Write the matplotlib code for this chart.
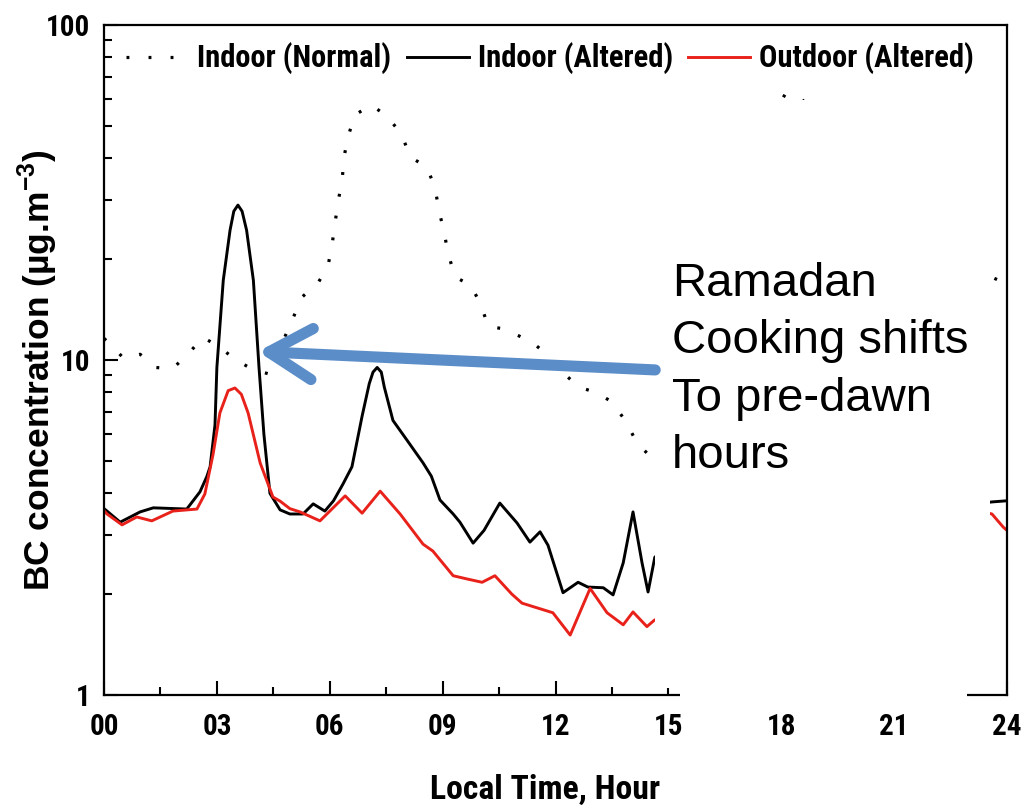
import os
import matplotlib
matplotlib.use("Agg")
import matplotlib.pyplot as plt
from matplotlib import font_manager as fm
from matplotlib.patches import Rectangle
from matplotlib.ticker import LogLocator, NullFormatter, FixedLocator, FixedFormatter

# ---------------- data ----------------
normal_hours = [0.0, 0.11, 0.53, 0.96, 1.38, 1.81, 2.23, 2.63, 3.08, 3.51, 3.93, 4.36, 4.7,
                5.02, 5.26, 5.69, 5.95, 6.06, 6.14, 6.22, 6.33, 6.38, 6.49, 6.67, 7.10, 7.52,
                7.92, 8.13, 8.58, 8.80, 8.90, 9.04, 9.14, 9.33, 9.75, 10.02, 10.21, 10.60,
                11.03, 11.46, 11.77, 12.23, 12.62, 13.08, 13.50, 13.85, 14.17, 14.56,
                15.2, 15.8, 16.4, 17.0, 17.6, 18.1, 18.5, 19.0, 19.8, 20.6, 21.4, 22.2,
                23.0, 23.87, 24.0]
normal_vals = [11.6, 11.3, 10.1, 10.4, 9.5, 9.4, 10.4, 11.7, 10.9, 10.0, 9.4, 9.1, 11.0,
               13.3, 15.4, 17.0, 19.0, 22.0, 25.6, 29.6, 34.5, 40.4, 46.6, 53.9, 57.7, 53.5,
               47.0, 40.4, 37.7, 32.6, 28.0, 24.1, 20.9, 17.7, 16.7, 14.6, 12.6, 12.4,
               11.8, 11.1, 10.4, 9.1, 8.3, 8.0, 7.5, 6.6, 5.65, 5.1,
               6.5, 10.0, 18.0, 32.0, 50.0, 62.0, 61.0, 52.0, 42.0, 33.0, 27.0, 22.0,
               19.0, 17.1, 16.8]

altered_hours = [0.0, 0.08, 0.43, 0.96, 1.31, 2.2, 2.55, 2.73, 2.82, 2.95, 3.0, 3.17, 3.35,
                 3.45, 3.56, 3.67, 3.79, 3.97, 4.12, 4.25, 4.41, 4.68, 4.94, 5.29, 5.56,
                 5.87, 6.1, 6.35, 6.59, 6.86, 7.05, 7.15, 7.26, 7.37, 7.45, 7.68, 8.05, 8.48,
                 8.7, 8.93, 9.28, 9.46, 9.81, 10.1, 10.52, 10.98, 11.32, 11.59, 11.8, 12.2,
                 12.6, 12.86, 13.27, 13.53, 13.8, 14.06, 14.3, 14.46, 14.64,
                 15.5, 17.0, 19.0, 21.0, 23.0, 23.6, 24.0]
altered_vals = [3.6, 3.54, 3.28, 3.52, 3.62, 3.59, 4.04, 4.48, 4.8, 6.4, 9.5, 17.3, 24.4,
                27.8, 29.0, 27.8, 24.4, 17.3, 9.5, 6.0, 4.0, 3.57, 3.47, 3.47, 3.72,
                3.54, 3.8, 4.26, 4.8, 6.8, 8.5, 9.2, 9.5, 9.2, 8.3, 6.6, 5.77, 4.93,
                4.5, 3.82, 3.47, 3.28, 2.84, 3.1, 3.74, 3.26, 2.86, 3.07, 2.8, 2.02,
                2.17, 2.10, 2.09, 1.99, 2.48, 3.52, 2.48, 2.03, 2.58,
                3.0, 3.3, 3.6, 3.5, 3.7, 3.77, 3.8]

outdoor_hours = [0.0, 0.08, 0.48, 0.87, 1.27, 1.83, 2.47, 2.68, 2.9, 3.08, 3.3, 3.48, 3.65,
                 3.83, 4.15, 4.49, 4.68, 4.94, 5.21, 5.74, 6.41, 6.86, 7.34, 7.87, 8.48,
                 8.74, 9.28, 9.65, 10.05, 10.39, 10.84, 11.11, 11.93, 12.39, 12.92, 13.37,
                 13.8, 14.06, 14.43, 14.62,
                 15.5, 17.0, 19.0, 21.0, 23.0, 23.6, 23.9, 24.0]
outdoor_vals = [3.55, 3.47, 3.22, 3.4, 3.31, 3.54, 3.59, 3.98, 5.24, 6.95, 8.1, 8.25, 7.9,
                6.95, 4.93, 3.9, 3.79, 3.6, 3.52, 3.31, 3.93, 3.49, 4.06, 3.47, 2.82,
                2.69, 2.27, 2.22, 2.17, 2.27, 2.0, 1.88, 1.76, 1.51, 2.08, 1.76,
                1.62, 1.77, 1.6, 1.67,
                1.9, 2.3, 2.8, 3.2, 3.6, 3.47, 3.17, 3.1]

x_ticks = [0, 3, 6, 9, 12, 15, 18, 21, 24]
x_tick_labels = ["00", "03", "06", "09", "12", "15", "18", "21", "24"]
y_ticks = [1, 10, 100]
y_tick_labels = ["1", "10", "100"]
legend_labels = ["Indoor (Normal)", "Indoor (Altered)", "Outdoor (Altered)"]
x_label = "Local Time, Hour"
y_label = r"BC concentration (µg.m$^{\mathbf{-3}}$)"
note_text = "Ramadan\nCooking shifts\nTo pre-dawn\nhours"

# ---------------- fonts ----------------
prefs = ["liberationsansnarrow-bold.", "arialnb", "notosans-condensedbold.",
         "robotocondensed-bold.", "opensans-condensedbold.", "opensans_condensed-bold",
         "notosansdisplay-condensedbold.", "dejavusanscondensed-bold."]
files = [f.fname for f in fm.fontManager.ttflist]
narrow_file = None
for p in prefs:
    for fn in files:
        if p in os.path.basename(fn).lower():
            narrow_file = fn
            break
    if narrow_file:
        break


def nfp(size):
    if narrow_file:
        return fm.FontProperties(fname=narrow_file, size=size)
    return fm.FontProperties(family="Liberation Sans", weight="bold", size=size)


plt.rcParams["mathtext.fontset"] = "custom"
plt.rcParams["mathtext.rm"] = "Liberation Sans"
plt.rcParams["mathtext.bf"] = "Liberation Sans:bold"

# ---------------- figure ----------------
fig = plt.figure(figsize=(10.24, 8.08), dpi=100)
renderer = fig.canvas.get_renderer()


def fit_size(s, factory, target_px, base=20.0):
    t = fig.text(0, 0, s, fontproperties=factory(base))
    w = t.get_window_extent(renderer).width
    t.remove()
    return base * target_px / w


leg_size = fit_size(legend_labels[0], nfp, 195)
tick_size = 21
xl_size = min(25, fit_size(x_label, nfp, 230))

ax = fig.add_axes([104 / 1024, 113 / 808, 903 / 1024, 670 / 808])

RED = "#E8211A"
ax.plot(normal_hours, normal_vals, color="black", lw=2.3, linestyle=(0, (0.9, 6.0)),
        label=legend_labels[0], zorder=2)
ax.plot(altered_hours, altered_vals, color="black", lw=2.1, label=legend_labels[1], zorder=2,
        solid_joinstyle="round")
ax.plot(outdoor_hours, outdoor_vals, color=RED, lw=2.1, label=legend_labels[2], zorder=2,
        solid_joinstyle="round")

ax.set_yscale("log")
ax.set_xlim(0, 24)
ax.set_ylim(1, 100)

ax.xaxis.set_major_locator(FixedLocator(x_ticks))
ax.xaxis.set_major_formatter(FixedFormatter(x_tick_labels))
ax.xaxis.set_minor_locator(FixedLocator([1.5 + 3 * i for i in range(8)]))
ax.yaxis.set_major_locator(FixedLocator(y_ticks))
ax.yaxis.set_major_formatter(FixedFormatter(y_tick_labels))
ax.yaxis.set_minor_locator(LogLocator(base=10, subs=range(2, 10)))
ax.yaxis.set_minor_formatter(NullFormatter())

ax.tick_params(which="both", direction="in", top=False, right=False, width=1.5, color="black")
ax.tick_params(which="major", length=10)
ax.tick_params(which="minor", length=5.5)
ax.tick_params(axis="y", which="major", pad=10)
ax.tick_params(axis="x", which="major", pad=13)
for lab in ax.get_xticklabels() + ax.get_yticklabels():
    lab.set_fontproperties(nfp(tick_size))
for s in ax.spines.values():
    s.set_linewidth(1.6)

ax.set_xlabel(x_label, fontproperties=nfp(xl_size), va="center", ha="center")
ax.xaxis.set_label_coords(0.488, -0.142)
ax.set_ylabel(y_label, fontfamily="Liberation Sans", fontweight="bold", fontsize=25.5,
              va="center", ha="center")
ax.yaxis.set_label_coords(-0.073, 0.485)

px_per_pt = 100 / 72
leg = ax.legend(loc="center", bbox_to_anchor=(0.494, 0.95), ncol=3, frameon=False,
                prop=nfp(leg_size), handlelength=62 / (leg_size * px_per_pt),
                handletextpad=9 / (leg_size * px_per_pt),
                columnspacing=15 / (leg_size * px_per_pt), borderaxespad=0)
leg.set_zorder(10)

# white cover box (as in the slide)
ax.add_patch(Rectangle((551 / 903, 7 / 670), (990 - 655) / 903, (688 - 100) / 670,
                       transform=ax.transAxes, facecolor="white", edgecolor="none",
                       zorder=3, clip_on=False))
ax.add_patch(Rectangle((576 / 903, -8 / 670), (967 - 680) / 903, 17 / 670,
                       transform=ax.transAxes, facecolor="white", edgecolor="none",
                       zorder=3, clip_on=False))

# annotation arrow and text
ax.annotate("", xy=(4.09, 10.6), xytext=(14.65, 9.34),
            arrowprops=dict(arrowstyle="->,head_length=0.78,head_width=0.46",
                            color="#5B8DC8", lw=8, mutation_scale=40,
                            shrinkA=0, shrinkB=0, capstyle="round", joinstyle="round"),
            zorder=6, annotation_clip=False)
ax.text(15.1, 10 ** ((695 - 262) / 335), note_text, fontfamily="Liberation Sans",
        fontsize=34, va="top", ha="left", linespacing=1.39, zorder=7)

fig.savefig("out.png", dpi=100)
